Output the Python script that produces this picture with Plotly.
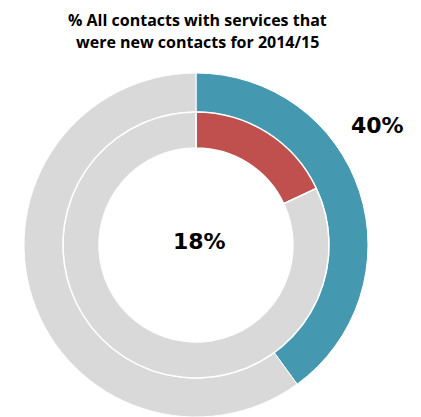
import plotly.graph_objects as go

labels = ["New contacts", "Other"]
outer_values = [40, 60]
inner_values = [18, 82]
outer_colors = ["#4499B1", "#D9D9D9"]
inner_colors = ["#C0504D", "#D9D9D9"]
title_lines = ["% All contacts with services that", "were new contacts for 2014/15"]
outer_label = "40%"
inner_label = "18%"

W, H = 421, 417
OFF = 8  # page body margin
# desired page coordinates
pcx, pcy = 196, 245
cx = pcx - OFF
cy_top = pcy - OFF
cy = H - cy_top  # from bottom
R_out, R_in, R_hole = 172, 133, 97

def dom(r):
    return dict(x=[(cx - r) / W, (cx + r) / W], y=[max(0, (cy - r) / H), min(1, (cy + r) / H)])

def px(x):
    return (x - OFF) / W

def py(y):
    return 1 - (y - OFF) / H

fig = go.Figure()
fig.add_trace(go.Pie(
    labels=labels, values=outer_values, hole=R_in / R_out,
    sort=False, direction="clockwise", rotation=0,
    marker=dict(colors=outer_colors, line=dict(color="white", width=1)),
    textinfo="none", hoverinfo="label+percent", domain=dom(R_out), showlegend=False,
))
fig.add_trace(go.Pie(
    labels=labels, values=inner_values, hole=R_hole / R_in,
    sort=False, direction="clockwise", rotation=0,
    marker=dict(colors=inner_colors, line=dict(color="white", width=1.5)),
    textinfo="none", hoverinfo="label+percent", domain=dom(R_in), showlegend=False,
))

fig.add_annotation(text="<b>" + title_lines[0] + "</b>", x=px(197), y=1,
                   xref="paper", yref="paper", showarrow=False,
                   xanchor="center", yanchor="top", borderpad=0,
                   font=dict(family="Open Sans", size=16, color="black"))
fig.add_annotation(text="<b>" + title_lines[1] + "</b>", x=px(197), y=py(42),
                   xref="paper", yref="paper", showarrow=False,
                   xanchor="center", yanchor="middle",
                   font=dict(family="Open Sans", size=16, color="black"))
fig.add_annotation(text="<b>" + outer_label + "</b>", x=px(377), y=py(125),
                   xref="paper", yref="paper", showarrow=False,
                   xanchor="center", yanchor="middle",
                   font=dict(family="DejaVu Sans", size=22, color="black"))
fig.add_annotation(text="<b>" + inner_label + "</b>", x=px(199.5), y=py(241),
                   xref="paper", yref="paper", showarrow=False,
                   xanchor="center", yanchor="middle",
                   font=dict(family="DejaVu Sans", size=22, color="black"))

fig.update_layout(width=W, height=H, margin=dict(l=0, r=0, t=0, b=0),
                  paper_bgcolor="white", plot_bgcolor="white")
fig.write_html("out.html")
